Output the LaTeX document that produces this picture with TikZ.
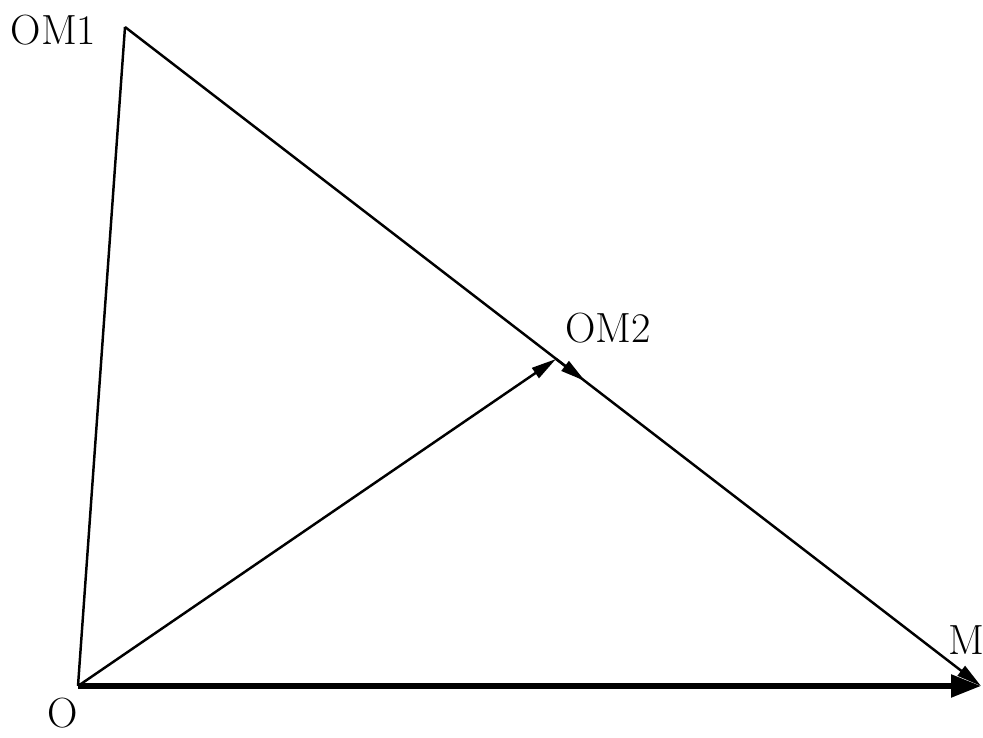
\documentclass[tikz,border=0pt]{standalone}
\usepackage{tikz}
\usetikzlibrary{arrows.meta,positioning}
\tikzset{
  seg/.style={line width=1.4pt},
  vec/.style={-{Triangle[length=5mm, width=2.4mm]}, line width=1.4pt},
  basevec/.style={-{Triangle[length=6mm, width=4.4mm]}, line width=3pt},
  lbl/.style={font=\fontsize{24}{28}\selectfont, inner sep=0pt}
}
\begin{document}
\begin{tikzpicture}
\useasboundingbox (0,0) rectangle (19.66,14.76);
\coordinate (o) at (1.56,1.04);
\coordinate (om1) at (2.50,14.22);
\coordinate (om2) at (11.12,7.58);
\coordinate (m) at (19.62,1.04);
\coordinate (om2t) at (11.70,7.14);

\node[lbl] (lo) at (1.25,0.50) {O};
\node[lbl] (lom1) at (1.07,14.16) {OM1};
\node[lbl] (lom2) at (12.16,8.20) {OM2};
\node[lbl] (lm) at (19.32,1.96) {M};

\draw[seg] (o) -- (om1);
\draw[vec] (om1) -- (m);
\draw[vec] (o) -- (om2);
\draw[vec] (om2) -- (om2t);
\draw[basevec] (o) -- (m);
\end{tikzpicture}
\end{document}
